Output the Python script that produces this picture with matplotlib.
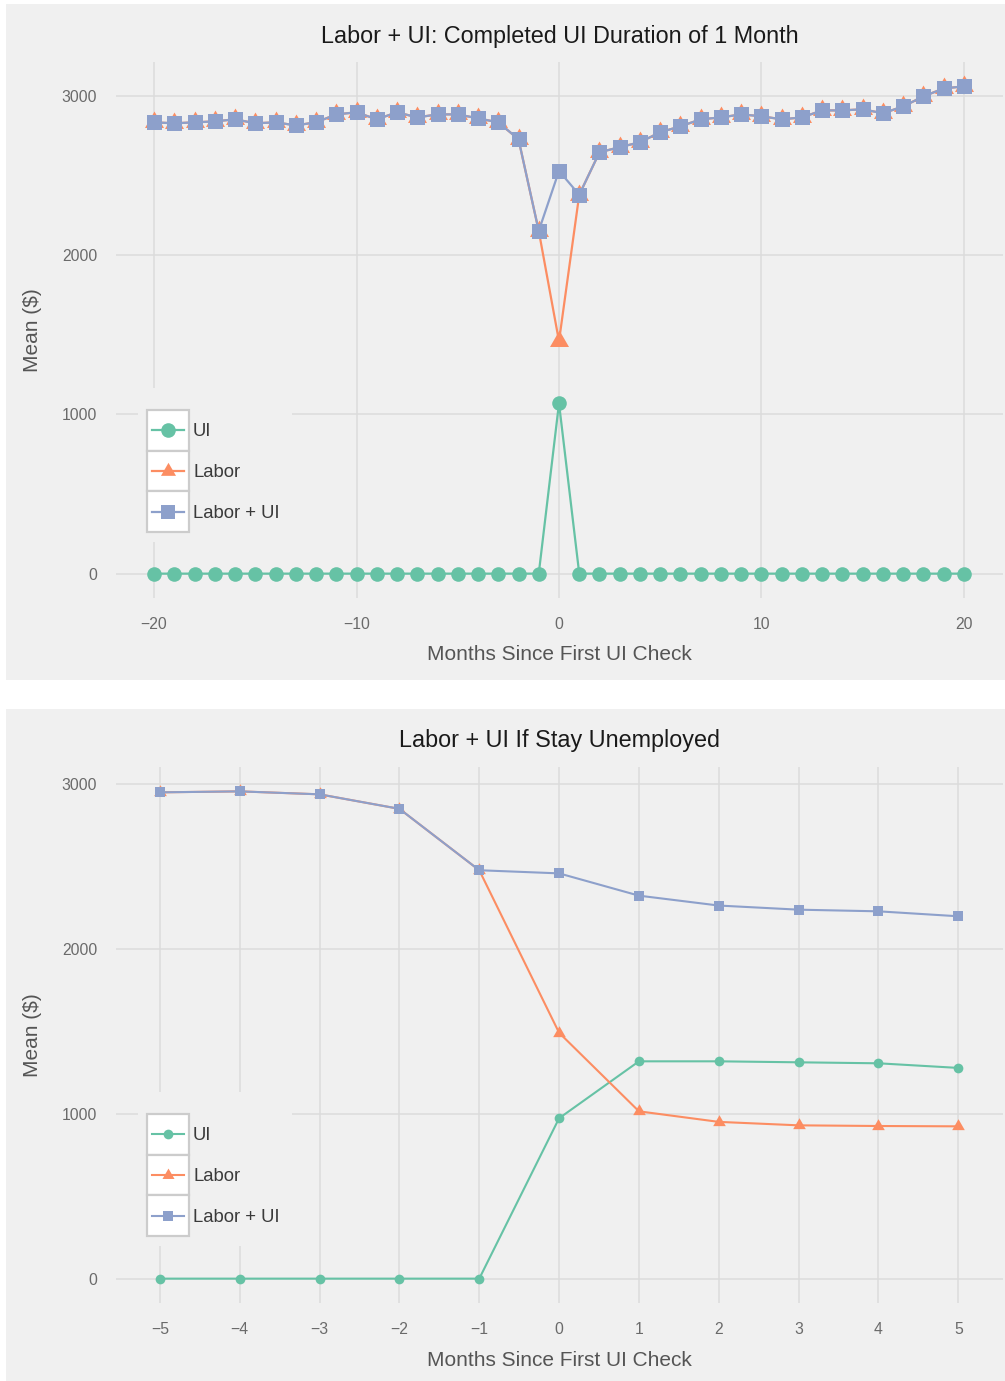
import matplotlib
matplotlib.use("Agg")
import matplotlib.pyplot as plt
from matplotlib.patches import Rectangle
from matplotlib.lines import Line2D

# ---- data -------------------------------------------------------------
months_top = list(range(-20, 21))
ui_top = [0, 0, 0, 0, 0, 0, 0, 0, 0, 0,
          0, 0, 0, 0, 0, 0, 0, 0, 0, 0,
          1070,
          0, 0, 0, 0, 0, 0, 0, 0, 0, 0,
          0, 0, 0, 0, 0, 0, 0, 0, 0, 0]
labor_top = [2835, 2829, 2835, 2841, 2854, 2829, 2835, 2816, 2835, 2885,
             2898, 2854, 2898, 2866, 2885, 2885, 2860, 2835, 2729, 2153,
             1460,
             2380, 2647, 2679, 2710, 2773, 2810, 2854, 2866, 2885, 2873,
             2854, 2866, 2910, 2910, 2917, 2892, 2935, 2998, 3048, 3061]
labor_ui_top = [2835, 2829, 2835, 2841, 2854, 2829, 2835, 2816, 2835, 2885,
                2898, 2854, 2898, 2866, 2885, 2885, 2860, 2835, 2729, 2153,
                2530,
                2380, 2647, 2679, 2710, 2773, 2810, 2854, 2866, 2885, 2873,
                2854, 2866, 2910, 2910, 2917, 2892, 2935, 2998, 3048, 3061]

months_bot = [-5, -4, -3, -2, -1, 0, 1, 2, 3, 4, 5]
ui_bot = [0, 0, 0, 0, 0, 972, 1317, 1317, 1311, 1305, 1277]
labor_bot = [2947, 2953, 2935, 2847, 2475, 1490, 1014, 950, 929, 925, 923]
labor_ui_bot = [2947, 2953, 2935, 2847, 2475, 2456, 2321, 2261, 2236, 2226, 2196]

series_names = ["UI", "Labor", "Labor + UI"]
series_colors = ["#66c2a5", "#fc8d62", "#8da0cb"]
TRI = (3, 0, 0)
series_markers = ["o", TRI, "s"]

titles = ["Labor + UI: Completed UI Duration of 1 Month",
          "Labor + UI If Stay Unemployed"]
xlabel = "Months Since First UI Check"
ylabel = "Mean ($)"
yticks = [0, 1000, 2000, 3000]

# ---- style ------------------------------------------------------------
plt.rcParams["font.family"] = ["Liberation Sans", "DejaVu Sans"]
W, H = 1005, 1381
PANEL = "#f0f0f0"
GRID = "#dcdcdc"

fig = plt.figure(figsize=(W / 100, H / 100), dpi=100)


def fx(x):
    return x / W


def fy(y):
    return 1 - y / H


def frect(x0, y0, x1, y1, **kw):
    r = Rectangle((fx(x0), fy(y1)), fx(x1) - fx(x0), fy(y0) - fy(y1),
                  transform=fig.transFigure, **kw)
    fig.add_artist(r)
    return r


# grey backgrounds of both panels
frect(6, 4, W, 680, facecolor=PANEL, edgecolor="none", zorder=-5)
frect(6, 709, W, H, facecolor=PANEL, edgecolor="none", zorder=-5)


def make_axes(top, bottom):
    ax = fig.add_axes([fx(116), fy(bottom), fx(1003) - fx(116), fy(top) - fy(bottom)])
    ax.set_facecolor("none")
    for s in ax.spines.values():
        s.set_visible(False)
    ax.grid(True, color=GRID, linewidth=1.1)
    ax.set_axisbelow(True)
    ax.tick_params(length=0, pad=13.5, labelsize=11.3, labelcolor="#6a6a6a")
    ax.margins(y=0.05)
    return ax


def draw_legend(x0, y0, mk_sizes, lw):
    # background hiding the grid behind the legend
    frect(138, y0 - 22, 292, y0 + 132, facecolor=PANEL, edgecolor="none", zorder=3)
    row_h = 40.7
    for i, (name, col, mk, ms) in enumerate(zip(series_names, series_colors,
                                                series_markers, mk_sizes)):
        ya = y0 + i * row_h
        frect(x0, ya, x0 + 42, ya + row_h, facecolor="white",
              edgecolor="#cccccc", linewidth=1.6, zorder=4)
        yc = ya + row_h / 2
        fig.add_artist(Line2D([fx(x0 + 5), fx(x0 + 37)], [fy(yc), fy(yc)],
                              transform=fig.transFigure, color=col, lw=lw,
                              zorder=5))
        fig.add_artist(Line2D([fx(x0 + 21)], [fy(yc)], transform=fig.transFigure,
                              marker=mk, markersize=ms, color=col,
                              markeredgewidth=0, linestyle="none", zorder=6))
        fig.text(fx(x0 + 46), fy(yc + 1.5), name, fontsize=13.3, color="#3a3a3a",
                 ha="left", va="center", zorder=6)


def finish(ax, title, top, bottom):
    h = bottom - top
    ax.text(0.5, 1 + 26 / h, title, transform=ax.transAxes, ha="center",
            va="center", fontsize=16.8, color="#1a1a1a")
    ax.set_xlabel(xlabel, fontsize=15, color="#555555", va="center")
    ax.xaxis.set_label_coords(0.5, -57 / h)
    ax.set_ylabel(ylabel, fontsize=15, color="#555555", va="center")
    ax.yaxis.set_label_coords(-83 / 887, 0.5)
    ax.set_yticks(yticks)


# ---- top panel ---------------------------------------------------------
ax1 = make_axes(62, 598)
top_vals = [ui_top, labor_top, labor_ui_top]
top_ms = [10.5, 15.8, 10.8]
for vals, col, mk, ms in zip(top_vals, series_colors, series_markers, top_ms):
    ax1.plot(months_top, vals, color=col, lw=1.6, marker=mk, markersize=ms,
             markeredgewidth=0, zorder=2)
ax1.set_xticks([-20, -10, 0, 10, 20])
ax1.set_xlim(-21.88, 21.93)
finish(ax1, titles[0], 62, 598)
draw_legend(147, 410, [10.5, 12.5, 10.5], 1.6)

# ---- bottom panel ------------------------------------------------------
ax2 = make_axes(767, 1303)
bot_vals = [ui_bot, labor_bot, labor_ui_bot]
bot_ms = [7.0, 10.5, 7.2]
for vals, col, mk, ms in zip(bot_vals, series_colors, series_markers, bot_ms):
    ax2.plot(months_bot, vals, color=col, lw=1.5, marker=mk, markersize=ms,
             markeredgewidth=0, zorder=2)
ax2.set_xticks(months_bot)
ax2.set_xlim(-5.55, 5.56)
finish(ax2, titles[1], 767, 1303)
draw_legend(147, 1114, [7.0, 10.0, 7.2], 1.5)

fig.savefig("out.png", dpi=100)
